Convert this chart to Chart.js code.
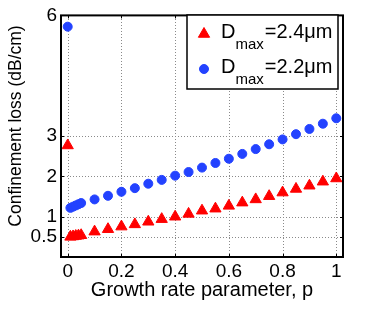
<!DOCTYPE html>
<html>
<head>
<meta charset="utf-8">
<script src="https://cdn.jsdelivr.net/npm/chart.js@4.4.1/dist/chart.umd.min.js"></script>
<style>
html,body{margin:0;padding:0;background:#fff;}
#wrap{width:374px;height:309px;}
</style>
</head>
<body>
<div id="wrap"><canvas id="c" width="374" height="309"></canvas></div>
<script>
// ---- data ----
const growthRate = [0,0.01,0.02,0.03,0.04,0.05,0.1,0.15,0.2,0.25,0.3,0.35,0.4,0.45,0.5,0.55,0.6,0.65,0.7,0.75,0.8,0.85,0.9,0.95,1];
const lossD24 = [2.77,0.50,0.51,0.52,0.53,0.54,0.63,0.69,0.755,0.81,0.875,0.94,1.0,1.07,1.15,1.2,1.27,1.35,1.43,1.51,1.6,1.69,1.77,1.87,1.95];
const lossD22 = [5.72,1.22,1.25,1.28,1.31,1.34,1.43,1.52,1.62,1.71,1.82,1.915,2.02,2.11,2.22,2.335,2.44,2.56,2.68,2.8,2.92,3.05,3.18,3.31,3.445];
const seriesNames = ['D', 'D'];
const seriesSubs = ['max', 'max'];
const seriesRest = ['=2.4\u03bcm', '=2.2\u03bcm'];
const xTickValues = [0,0.2,0.4,0.6,0.8,1];
const xTickLabels = ['0','0.2','0.4','0.6','0.8','1'];
const yTickValues = [0.5,1,2,3,6];
const yTickLabels = ['0.5','1','2','3','6'];
const xTitle = 'Growth rate parameter, p';
const yTitle = 'Confinement loss (dB/cm)';

const RED = '#ff0000';
const BLUE = '#2342ff';
const FONT = "'Liberation Sans', Arial, Helvetica, sans-serif";

function pts(xs, ys){ return xs.map((x,i)=>({x:x, y:ys[i]})); }

const gridPlugin = {
  id:'dotgrid',
  beforeDatasetsDraw(chart){
    const ctx = chart.ctx, a = chart.chartArea;
    const xs = chart.scales.x, ys = chart.scales.y;
    ctx.save();
    ctx.strokeStyle = '#8a8a8a';
    ctx.lineWidth = 1;
    ctx.setLineDash([1,2]);
    ctx.beginPath();
    xTickValues.forEach(v=>{
      const px = Math.round(xs.getPixelForValue(v))+0.5;
      ctx.moveTo(px, a.bottom); ctx.lineTo(px, a.top);
    });
    yTickValues.forEach(v=>{
      const py = Math.round(ys.getPixelForValue(v))+0.5;
      ctx.moveTo(a.left, py); ctx.lineTo(a.right, py);
    });
    ctx.stroke();
    ctx.restore();
  }
};

const frame = {
  id:'frame',
  afterDraw(chart){
    const ctx = chart.ctx, a = chart.chartArea;
    const xs = chart.scales.x, ys = chart.scales.y;
    ctx.save();
    ctx.strokeStyle = '#000';
    ctx.lineWidth = 1;
    // inward tick marks
    ctx.beginPath();
    xTickValues.forEach(v=>{
      const px = Math.round(xs.getPixelForValue(v))+0.5;
      ctx.moveTo(px, a.bottom); ctx.lineTo(px, a.bottom-3);
      ctx.moveTo(px, a.top); ctx.lineTo(px, a.top+3);
    });
    yTickValues.forEach(v=>{
      const py = Math.round(ys.getPixelForValue(v))+0.5;
      ctx.moveTo(a.left, py); ctx.lineTo(a.left+3, py);
      ctx.moveTo(a.right, py); ctx.lineTo(a.right-3, py);
    });
    ctx.stroke();
    ctx.lineWidth = 2;
    ctx.strokeRect(a.left, a.top, a.right-a.left, a.bottom-a.top);

    // y title
    ctx.save();
    ctx.translate(16, 126);
    ctx.rotate(-Math.PI/2);
    ctx.fillStyle = '#000';
    ctx.font = '17.5px ' + FONT;
    ctx.textAlign = 'center';
    ctx.textBaseline = 'middle';
    ctx.fillText(yTitle, 0, 0);
    ctx.restore();

    // legend
    const lx = 187, ly = 15, lw = 151, lh = 74;
    ctx.fillStyle = '#fff';
    ctx.fillRect(lx, ly, lw, lh);
    ctx.lineWidth = 1.5;
    ctx.strokeRect(lx, ly, lw, lh);
    const rowY = [34, 69];
    const textBase = [37.5, 72.5];
    chart.data.datasets.forEach((ds,i)=>{
      ctx.fillStyle = ds.backgroundColor;
      ctx.strokeStyle = ds.borderColor;
      ctx.lineWidth = ds.borderWidth;
      Chart.helpers.drawPoint(ctx, {pointStyle: ds.pointStyle, radius: ds.pointRadius, rotation:0, borderWidth: ds.borderWidth}, 204, rowY[i]);
      ctx.fillStyle = '#000';
      ctx.textBaseline = 'alphabetic';
      ctx.textAlign = 'left';
      let x = 221;
      ctx.font = '20px ' + FONT;
      ctx.fillText(seriesNames[i], x, textBase[i]);
      x += ctx.measureText(seriesNames[i]).width;
      ctx.font = '15px ' + FONT;
      ctx.fillText(seriesSubs[i], x, textBase[i] + 11);
      x += ctx.measureText(seriesSubs[i]).width + 1;
      ctx.font = '20px ' + FONT;
      ctx.fillText(seriesRest[i], x, textBase[i]);
    });
    ctx.restore();
  }
};

new Chart(document.getElementById('c'), {
  type: 'scatter',
  data: {
    datasets: [
      { label: 'Dmax=2.4\u03bcm', data: pts(growthRate, lossD24), pointStyle:'triangle', pointRadius:6.5, borderWidth:1,
        backgroundColor: RED, borderColor: RED },
      { label: 'Dmax=2.2\u03bcm', data: pts(growthRate, lossD22), pointStyle:'circle', pointRadius:4.5, borderWidth:1,
        backgroundColor: BLUE, borderColor: BLUE }
    ]
  },
  plugins: [gridPlugin, frame],
  options: {
    responsive: false,
    animation: false,
    events: [],
    layout: { padding: { left: 0, top: 11, right: 31, bottom: 0 } },
    plugins: { legend: { display:false }, tooltip: { enabled:false } },
    scales: {
      x: {
        type: 'linear', min: -0.025, max: 1.025,
        afterBuildTicks: s => { s.ticks = xTickValues.map(v=>({value:v})); },
        afterFit: s => { s.height = 52; },
        ticks: { color:'#000', font:{family:FONT, size:19}, padding:3, maxRotation:0,
          callback: (v)=> { const i = xTickValues.indexOf(v); return i>=0 ? xTickLabels[i] : ''; } },
        grid: { display:false, drawTicks:false },
        border: { display:false },
        title: { display:true, text:xTitle, color:'#000', font:{family:FONT, size:20}, padding:{top:0,bottom:7} }
      },
      y: {
        type: 'linear', min: 0, max: 6,
        afterBuildTicks: s => { s.ticks = yTickValues.map(v=>({value:v})); },
        afterFit: s => { s.width = 61; },
        ticks: { color:'#000', font:{family:FONT, size:19}, padding:4,
          callback: (v)=> { const i = yTickValues.indexOf(v); return i>=0 ? yTickLabels[i] : ''; } },
        grid: { display:false, drawTicks:false },
        border: { display:false },
        title: { display:false }
      }
    }
  }
});
</script>
</body>
</html>
